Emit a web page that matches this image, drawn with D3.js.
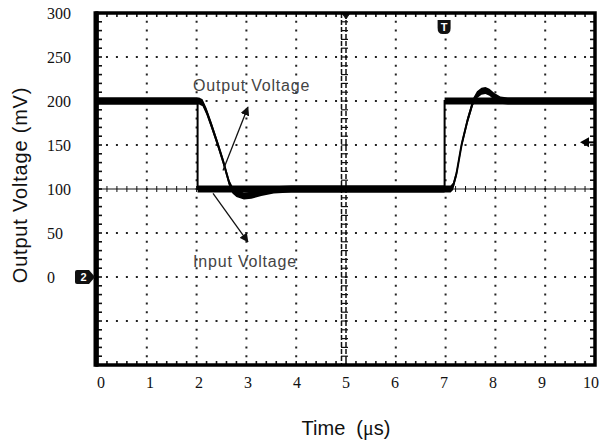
<!DOCTYPE html>
<html>
<head>
<meta charset="utf-8">
<script src="https://cdn.jsdelivr.net/npm/d3@7"></script>
<style>
  body { margin: 0; background: #fff; }
  svg { display: block; }
</style>
</head>
<body>
<div id="chart"></div>
<script>
// tick labels
const xTicks = [0, 1, 2, 3, 4, 5, 6, 7, 8, 9, 10];
const yTicks = [300, 250, 200, 150, 100, 50, 0];

// input step (time in us, level in mV)
const inputTime = [0, 2.02, 2.02, 6.98, 6.98, 10];
const inputMv   = [200, 200, 100, 100, 200, 200];

// output response
const outputTime = [0, 2.05, 2.12, 2.2, 2.3, 2.43, 2.53, 2.6, 2.66, 2.72, 2.8, 2.95, 3.1, 3.3, 3.55, 3.9,
                    7.1, 7.15, 7.22, 7.32, 7.44, 7.55, 7.63, 7.72, 7.8, 7.88, 7.98, 8.1, 8.25, 10];
const outputMv   = [200, 200, 198, 188, 172, 150, 132, 118, 106, 99, 95, 92, 93, 96, 99, 100,
                    100, 103, 118, 150, 178, 199, 207, 211, 212, 210, 205, 201, 200, 200];

const noiseMv = 4;       // trace noise half width
const triggerMv = 153;   // trigger level marker on the right edge

const width = 603, height = 445;
const margin = { top: 13, right: 8, bottom: 80, left: 97 };

const SANS = "'Liberation Sans', Arial, sans-serif";
const SERIF = "'Liberation Serif', 'Times New Roman', serif";

const x = d3.scaleLinear().domain([0, 10]).range([margin.left, width - margin.right]);
const y = d3.scaleLinear().domain([-100, 300]).range([height - margin.bottom, margin.top]);
// the printed time labels sit slightly off the graticule
const xLab = d3.scaleLinear().domain([0, 10]).range([101, 591]);

const svg = d3.select("#chart").append("svg")
    .attr("width", width)
    .attr("height", height);

const defs = svg.append("defs");
defs.append("marker")
    .attr("id", "head")
    .attr("viewBox", "0 0 10 10")
    .attr("refX", 9).attr("refY", 5)
    .attr("markerWidth", 9).attr("markerHeight", 9)
    .attr("markerUnits", "userSpaceOnUse")
    .attr("orient", "auto")
  .append("path")
    .attr("d", "M0,0 L10,5 L0,10 z")
    .attr("fill", "#111");

const divX = x(1) - x(0), divY = y(0) - y(50);

// ---- dotted graticule
const grid = svg.append("g").attr("stroke", "#222").attr("stroke-width", 2);
grid.selectAll(".vx")
  .data(xTicks.filter(d => d > 0 && d < 10 && d !== 5))
  .enter().append("line")
    .attr("x1", d => x(d)).attr("x2", d => x(d))
    .attr("y1", y(300)).attr("y2", y(-100))
    .attr("stroke-dasharray", "2," + (divY / 5 - 2))
    .attr("stroke-dashoffset", 1);
grid.selectAll(".hy")
  .data([250, 200, 150, 50, 0, -50])
  .enter().append("line")
    .attr("y1", d => y(d)).attr("y2", d => y(d))
    .attr("x1", x(0)).attr("x2", x(10))
    .attr("stroke-dasharray", "2," + (divX / 5 - 2))
    .attr("stroke-dashoffset", 1);

// ---- centre axes with minor ticks
const minorX = d3.range(0, 10.001, 0.2);
const minorY = d3.range(-100, 300.001, 10);
const centre = svg.append("g").attr("stroke", "#111");
centre.append("line")
    .attr("x1", x(0)).attr("x2", x(10))
    .attr("y1", y(100)).attr("y2", y(100))
    .attr("stroke-width", 1);
centre.selectAll(".ct")
  .data(minorX)
  .enter().append("line")
    .attr("x1", d => x(d)).attr("x2", d => x(d))
    .attr("y1", y(100) - 3).attr("y2", y(100) + 3)
    .attr("stroke-width", 1);
[-4.5, 0].forEach(off => {
  centre.append("line")
      .attr("x1", x(5) + off).attr("x2", x(5) + off)
      .attr("y1", y(300)).attr("y2", y(-100))
      .attr("stroke-width", 1.5)
      .attr("stroke-dasharray", "5,2");
});
centre.selectAll(".cv")
  .data(minorY)
  .enter().append("line")
    .attr("x1", x(5) - 5).attr("x2", x(5) + 2)
    .attr("y1", d => y(d)).attr("y2", d => y(d))
    .attr("stroke-width", 1.2);
centre.append("path")
    .attr("d", `M${x(5) - 4},${y(300)} L${x(5) + 4},${y(300)} L${x(5)},${y(300) + 6} z`)
    .attr("fill", "#111");

// ---- edge ticks
const edge = svg.append("g").attr("stroke", "#111").attr("stroke-width", 1.6);
edge.selectAll(".tt").data(minorX).enter().append("line")
    .attr("x1", d => x(d)).attr("x2", d => x(d))
    .attr("y1", y(300)).attr("y2", y(300) + 4);
edge.selectAll(".bt").data(minorX).enter().append("line")
    .attr("x1", d => x(d)).attr("x2", d => x(d))
    .attr("y1", y(-100)).attr("y2", y(-100) - 4);
edge.selectAll(".lt").data(minorY).enter().append("line")
    .attr("x1", x(0)).attr("x2", x(0) + 5)
    .attr("y1", d => y(d)).attr("y2", d => y(d));
edge.selectAll(".rt").data(minorY).enter().append("line")
    .attr("x1", x(10)).attr("x2", x(10) - 5)
    .attr("y1", d => y(d)).attr("y2", d => y(d));

// ---- traces
function trace(times, values) {
  const pts = times.map((t, i) => [t, values[i]]);
  svg.append("path")
      .datum(pts)
      .attr("fill", "#000")
      .attr("d", d3.area()
        .x(d => x(d[0]))
        .y0(d => y(d[1] - noiseMv))
        .y1(d => y(d[1] + noiseMv)));
  svg.append("path")
      .datum(pts)
      .attr("fill", "none")
      .attr("stroke", "#000")
      .attr("stroke-width", 2)
      .attr("d", d3.line().x(d => x(d[0])).y(d => y(d[1])));
}
trace(inputTime, inputMv);
trace(outputTime, outputMv);

// ---- frame
svg.append("rect")
    .attr("x", x(0)).attr("y", y(300))
    .attr("width", x(10) - x(0)).attr("height", y(-100) - y(300))
    .attr("fill", "none")
    .attr("stroke", "#000")
    .attr("stroke-width", 3.5);
svg.append("line")
    .attr("x1", x(0) - 1).attr("x2", x(0) - 1)
    .attr("y1", y(300) - 1.7).attr("y2", y(-100) + 1.7)
    .attr("stroke", "#000").attr("stroke-width", 5);

// ---- scope markers
const tx = x(6.97);
svg.append("path")
    .attr("d", `M${tx - 6.5},20 h13 v8 q0,6 -5,6 h-3 q-5,0 -5,-6 z`)
    .attr("fill", "#111");
svg.append("text")
    .attr("x", tx).attr("y", 31)
    .attr("text-anchor", "middle")
    .attr("fill", "#fff")
    .attr("font-family", SANS)
    .attr("font-size", 11).attr("font-weight", "bold")
    .text("T");

const gy = y(0);
svg.append("path")
    .attr("d", `M${x(0) - 20},${gy - 7} h12 l6,7 l-6,7 h-12 q-2,0 -2,-2 v-10 q0,-2 2,-2 z`)
    .attr("fill", "#111");
svg.append("text")
    .attr("x", x(0) - 13.5).attr("y", gy + 4)
    .attr("text-anchor", "middle")
    .attr("fill", "#fff")
    .attr("font-family", SANS)
    .attr("font-size", 11).attr("font-weight", "bold")
    .text("2");

const ty = y(triggerMv);
svg.append("path")
    .attr("d", `M${x(10) - 15},${ty} l9,-5 v10 z`)
    .attr("fill", "#000");
svg.append("line")
    .attr("x1", x(10) - 7).attr("x2", x(10))
    .attr("y1", ty).attr("y2", ty)
    .attr("stroke", "#000").attr("stroke-width", 2);

// ---- annotations
const ann = svg.append("g")
    .attr("fill", "#444")
    .attr("font-family", SANS)
    .attr("font-size", 16)
    .attr("letter-spacing", 0.8);
ann.append("text").attr("x", x(1.93)).attr("y", y(211)).text("Output Voltage");
ann.append("text").attr("x", x(1.93)).attr("y", y(11)).text("Input Voltage");

svg.append("line")
    .attr("x1", x(2.53)).attr("y1", y(121))
    .attr("x2", x(3.03)).attr("y2", y(193))
    .attr("stroke", "#111").attr("stroke-width", 1.3)
    .attr("marker-end", "url(#head)");
svg.append("line")
    .attr("x1", x(2.33)).attr("y1", y(95))
    .attr("x2", x(3.03)).attr("y2", y(40))
    .attr("stroke", "#111").attr("stroke-width", 1.3)
    .attr("marker-end", "url(#head)");

// ---- tick labels
svg.append("g").selectAll("text")
  .data(yTicks)
  .enter().append("text")
    .attr("x", 47)
    .attr("y", d => y(d) + 5.5)
    .attr("fill", "#111")
    .attr("font-family", SERIF)
    .attr("font-size", 16)
    .text(d => d);
svg.append("g").selectAll("text")
  .data(xTicks)
  .enter().append("text")
    .attr("x", d => xLab(d))
    .attr("y", 388)
    .attr("text-anchor", "middle")
    .attr("fill", "#111")
    .attr("font-family", SERIF)
    .attr("font-size", 16)
    .text(d => d);

// ---- axis titles
svg.append("text")
    .attr("transform", "translate(27," + (y(100) - 4) + ") rotate(-90)")
    .attr("text-anchor", "middle")
    .attr("fill", "#111")
    .attr("font-family", SANS)
    .attr("font-size", 20)
    .attr("letter-spacing", 0.8)
    .text("Output Voltage (mV)");
const xt = svg.append("text")
    .attr("x", x(5))
    .attr("y", 435)
    .attr("text-anchor", "middle")
    .attr("fill", "#111")
    .attr("font-family", SANS)
    .attr("font-size", 20)
    .attr("xml:space", "preserve");
xt.append("tspan").text("Time  (");
xt.append("tspan").attr("font-family", SERIF).text("\u03bc");
xt.append("tspan").text("s)");
</script>
</body>
</html>
